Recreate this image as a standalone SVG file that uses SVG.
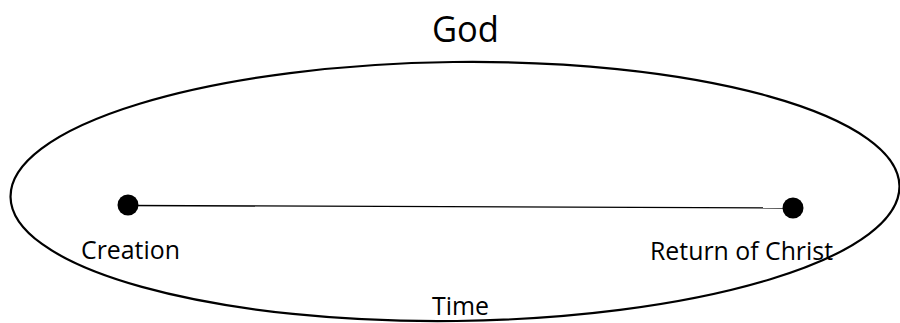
<svg xmlns="http://www.w3.org/2000/svg" width="900" height="323" viewBox="0 0 900 323">
<style>
text{font-family:"Open Sans","Noto Sans","Liberation Sans",sans-serif;fill:#000;text-anchor:middle}
.lbl{font-size:25px}
.dot{fill:#000}
</style>
<rect width="900" height="323" fill="#fff"/>
<g id="god"><text x="465.5" y="42" style="font-size:36px" textLength="67" lengthAdjust="spacingAndGlyphs">God</text></g>
<g id="time-ellipse">
<ellipse cx="455" cy="191.5" rx="444.5" ry="129.5" fill="none" stroke="#000" stroke-width="2.2" transform="rotate(-0.7 455 191.5)"/>
<text class="lbl" x="460.5" y="315" textLength="57" lengthAdjust="spacingAndGlyphs">Time</text>
</g>
<g id="connectors"><line x1="128" y1="205.5" x2="793" y2="208" stroke="#000" stroke-width="1.3"/></g>
<g id="creation">
<circle class="dot" cx="128" cy="205" r="10.5"/>
<text class="lbl" x="130.5" y="259" textLength="99" lengthAdjust="spacingAndGlyphs">Creation</text>
</g>
<g id="return">
<circle class="dot" cx="793" cy="208" r="10.5"/>
<text class="lbl" x="741.5" y="260" textLength="183" lengthAdjust="spacingAndGlyphs">Return of Christ</text>
</g>
</svg>
